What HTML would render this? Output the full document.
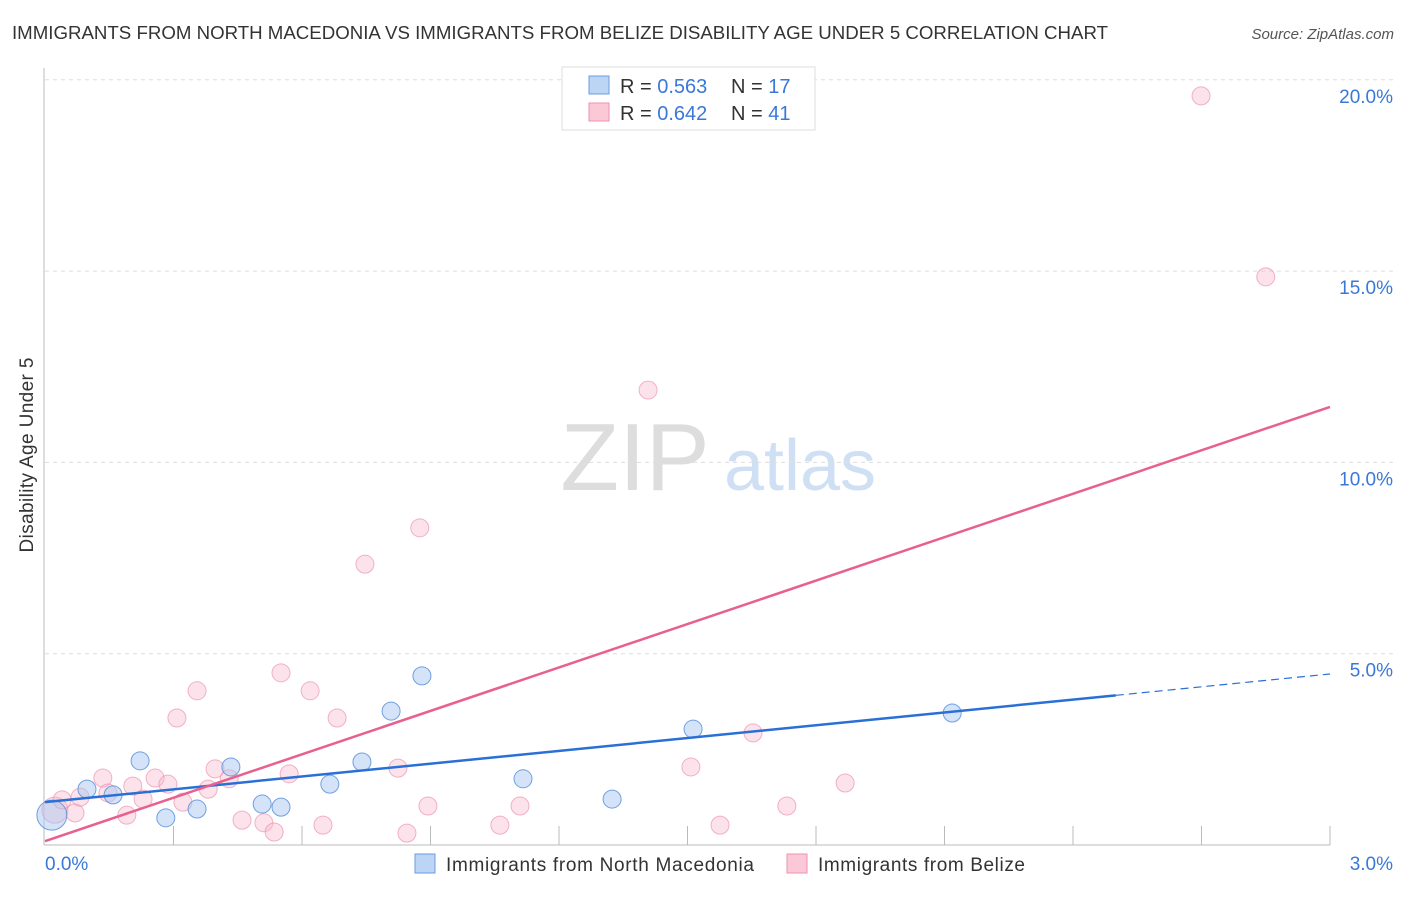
<!DOCTYPE html>
<html><head><meta charset="utf-8"><style>
body{margin:0;background:#fff;font-family:"Liberation Sans",sans-serif;}
svg text{font-family:"Liberation Sans",sans-serif;}
</style></head><body>
<svg id="c" width="1406" height="892">
<text x="12" y="39" font-size="18" fill="#333" textLength="1096" lengthAdjust="spacingAndGlyphs">IMMIGRANTS FROM NORTH MACEDONIA VS IMMIGRANTS FROM BELIZE DISABILITY AGE UNDER 5 CORRELATION CHART</text>
<text x="1394" y="39" font-size="15" fill="#555" font-style="italic" text-anchor="end">Source: ZipAtlas.com</text>
<text x="33" y="455" font-size="19" fill="#333" text-anchor="middle" transform="rotate(-90 33 455)" textLength="195">Disability Age Under 5</text>
<g><text x="635" y="490" font-size="96" fill="#ddd" font-family="Liberation Serif" text-anchor="middle">ZIP</text><text x="800" y="490" font-size="72" fill="#cfe0f5" text-anchor="middle">atlas</text></g>
<g id="grid"></g><g id="pts"></g><g id="lines"></g>
<g>
<rect x="562" y="67" width="253" height="63" fill="#fff" stroke="#ddd"/>
<rect x="589" y="76" width="20" height="18" fill="#bcd5f5" stroke="#6a9be0"/>
<rect x="589" y="103" width="20" height="18" fill="#fac8d6" stroke="#ee92ae"/>
<text x="620" y="93" font-size="20" fill="#333">R = <tspan fill="#3a78d8">0.563</tspan></text>
<text x="731" y="93" font-size="20" fill="#333">N = <tspan fill="#3a78d8">17</tspan></text>
<text x="620" y="120" font-size="20" fill="#333">R = <tspan fill="#3a78d8">0.642</tspan></text>
<text x="731" y="120" font-size="20" fill="#333">N = <tspan fill="#3a78d8">41</tspan></text>
</g>
<g>
<rect x="415" y="854" width="20" height="19" fill="#bcd5f5" stroke="#6a9be0"/>
<text x="446" y="871" font-size="19" fill="#333" textLength="308">Immigrants from North Macedonia</text>
<rect x="787" y="854" width="20" height="19" fill="#fac8d6" stroke="#ee92ae"/>
<text x="818" y="871" font-size="19" fill="#333" textLength="207">Immigrants from Belize</text>
</g>
</svg>
<script>
const yTicks=[5,10,15,20];
const xTickLabels=["0.0%","3.0%"];
const blueX=[0.016,0.098,0.159,0.222,0.282,0.355,0.434,0.507,0.551,0.665,0.740,0.808,0.880,1.116,1.324,1.513,2.118];
const blueY=[0.78,1.46,1.31,2.20,0.71,0.94,2.04,1.07,0.99,1.59,2.17,3.50,4.42,1.73,1.20,3.03,3.45];
const pinkX=[0.023,0.040,0.070,0.082,0.135,0.147,0.191,0.205,0.229,0.257,0.287,0.308,0.322,0.355,0.381,0.397,0.430,0.460,0.511,0.535,0.551,0.570,0.619,0.649,0.682,0.747,0.824,0.845,0.875,0.894,1.062,1.109,1.408,1.508,1.576,1.653,1.732,1.868,2.699,2.850];
const pinkY=[0.91,1.18,0.84,1.25,1.75,1.36,0.78,1.54,1.20,1.75,1.59,3.32,1.12,4.03,1.46,1.99,1.73,0.65,0.58,0.34,4.50,1.86,4.03,0.52,3.32,7.34,2.01,0.31,8.29,1.02,0.52,1.02,11.89,2.04,0.52,2.93,1.02,1.62,19.58,14.85];
const blueTrend=[1.12,4.47];
const pinkTrend=[0.10,11.45];
const NS="http://www.w3.org/2000/svg";
const X=v=>45+v/3*1285, Y=v=>845-v*38.26;
function mk(t,a,p){const e=document.createElementNS(NS,t);for(const k in a)e.setAttribute(k,a[k]);p.appendChild(e);return e;}
const g=document.getElementById('grid');
yTicks.forEach(t=>{
 const l=mk('line',{x1:45,x2:1394,y1:Y(t),y2:Y(t),stroke:'#ddd','stroke-dasharray':'4,4'},g);
 
 
 const tx=mk('text',{x:1393,y:Y(t)+23,'font-size':19,fill:'#3a78d8','text-anchor':'end'},g);tx.textContent=t.toFixed(1)+'%';
 
 
});
const ax=mk('line',{x1:44,x2:44,y1:68,y2:845,stroke:'#bbb'},g);


const bx=mk('line',{x1:44,x2:1330,y1:845,y2:845,stroke:'#bbb'},g);


for(let i=1;i<=10;i++){const t=mk('line',{x1:X(i*0.3),x2:X(i*0.3),y1:826,y2:845,stroke:'#bbb'},g);
 
 }
xTickLabels.forEach((s,i)=>{const t=mk('text',{x:i?1393:45,y:870,'font-size':19,fill:'#3a78d8','text-anchor':i?'end':'start'},g);t.textContent=s;
 
 });
const p=document.getElementById('pts');
pinkX.forEach((x,i)=>{const c=mk('circle',{cx:X(x),cy:Y(pinkY[i]),r:i==0?13:9,fill:'rgba(248,185,205,0.4)',stroke:'rgba(235,140,170,0.65)'},p);
 
 });
blueX.forEach((x,i)=>{const c=mk('circle',{cx:X(x),cy:Y(blueY[i]),r:i==0?15:9,fill:'rgba(170,200,240,0.5)',stroke:'rgba(80,140,220,0.8)'},p);
 
 });
const L=document.getElementById('lines');
const by=x=>blueTrend[0]+(blueTrend[1]-blueTrend[0])*x/3;
const b1=mk('line',{x1:X(0),y1:Y(by(0)),x2:X(2.5),y2:Y(by(2.5)),stroke:'#2a6fd6','stroke-width':2.5},L);


const b2=mk('line',{x1:X(2.5),y1:Y(by(2.5)),x2:X(3),y2:Y(by(3)),stroke:'#2a6fd6','stroke-width':1.2,'stroke-dasharray':'8,5'},L);


const pl=mk('line',{x1:X(0),y1:Y(pinkTrend[0]),x2:X(3),y2:Y(pinkTrend[1]),stroke:'#e8608e','stroke-width':2.5},L);


</script>
</body></html>
